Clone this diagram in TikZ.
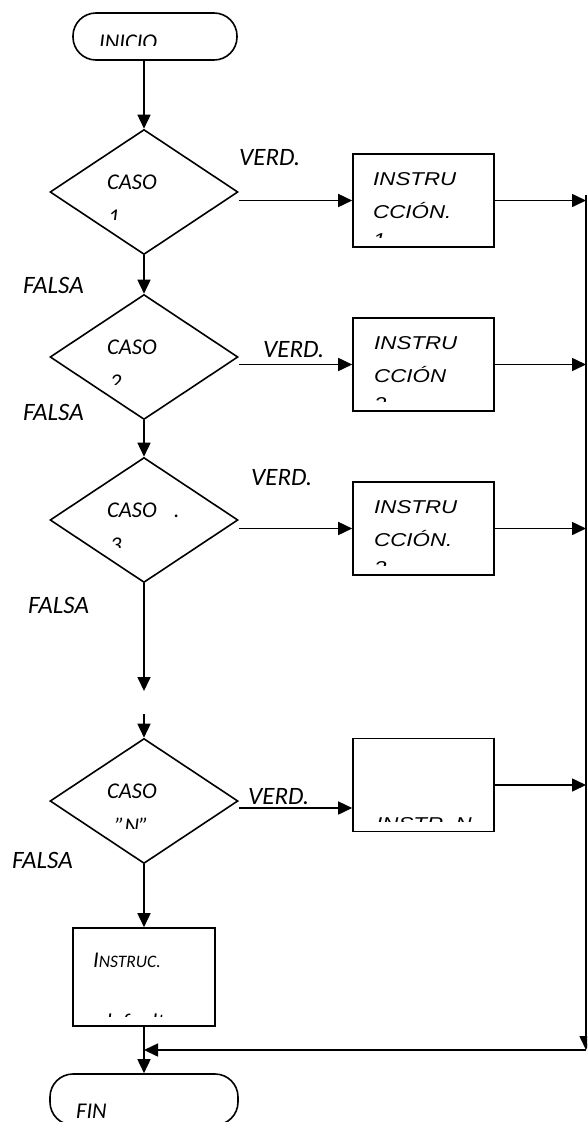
\documentclass[tikz,border=0pt]{standalone}
\usepackage{fontspec}
\setmainfont{Carlito}
\newfontfamily\arialf{Liberation Sans}
\usetikzlibrary{arrows.meta,shapes.geometric}

\tikzset{
  flow/.style={line width=1.6pt},
  arr/.style={flow,-{Triangle[length=14pt,width=13pt]}},
  terminal/.style={draw,flow,rectangle,rounded corners=23pt,inner sep=0pt},
  decision/.style={draw,flow,diamond,inner sep=0pt,minimum width=188pt,minimum height=125pt},
  procbox/.style={draw,flow,rectangle,inner sep=0pt,minimum width=141pt,minimum height=93pt},
  lbl/.style={font=\fontsize{22.5}{26}\selectfont\itshape,inner sep=0pt},
  edgelbl/.style={font=\fontsize{25}{28}\selectfont\itshape,inner sep=0pt},
  boxtxt/.style={font=\arialf\fontsize{18.6}{22}\selectfont\itshape,inner sep=0pt},
}

% text of an instruction box, cut off below its second line
\newcommand\instrtext[6]{%
  \begin{scope}
    \clip (#2-5,#3) rectangle (#2+125,#3+83);
    \node[boxtxt,anchor=base west] (#1a) at (#2,#3+31) {\scalebox{1.2}[1]{#4}};
    \node[boxtxt,anchor=base west] (#1b) at (#2,#3+64) {\scalebox{1.2}[1]{#5}};
    \node[boxtxt,anchor=base west] (#1c) at (#2,#3+92) {\scalebox{1.2}[1]{#6}};
  \end{scope}}

% text of a decision, its second line cut off
\newcommand\casetext[5]{%
  \begin{scope}
    \clip (60,#2-60) rectangle (230,#2+27);
    \node[lbl,anchor=base west] (#1a) at (107,#2-3) {#3};
    \node[lbl,anchor=base west] (#1b) at (#4,#2+32) {#5};
  \end{scope}}

\begin{document}
\begin{tikzpicture}[x=1pt,y=-1pt]
  \useasboundingbox (0,0) rectangle (587,1122);
  \clip (0,0) rectangle (587,1122);

  % terminals
  \node[terminal,minimum width=164pt,minimum height=47pt] (inicio) at (155,36.5) {};
  \node[terminal,minimum width=188pt,minimum height=51pt] (fin) at (144,1099.5) {};

  % decisions
  \node[decision] (d1) at (144,192) {};
  \node[decision] (d2) at (144,357) {};
  \node[decision] (d3) at (144,520) {};
  \node[decision] (d4) at (144,801) {};

  % instruction boxes
  \node[procbox] (b1) at (423.5,200.5) {};
  \node[procbox] (b2) at (423.5,364.5) {};
  \node[procbox] (b3) at (423.5,528.5) {};
  \node[procbox] (b4) at (423.5,785) {};
  \node[procbox,minimum width=142pt,minimum height=98pt] (bdef) at (144,977) {};

  % texts
  \begin{scope}
    \clip (80,20) rectangle (220,45);
    \node[lbl,anchor=base west] (tinicio) at (99,49) {INICIO};
  \end{scope}
  \node[lbl,anchor=base west] (tfin) at (76,1118) {FIN};

  \casetext{c1}{192}{CASO}{108}{1}
  \casetext{c2}{357}{CASO}{110}{2}
  \casetext{c3}{520}{CASO\hspace{17pt}.}{110}{3}
  \casetext{c4}{801}{CASO}{115}{”N”}

  \instrtext{i1}{373}{154}{INSTRU}{CCIÓN.}{1}
  \instrtext{i2}{374}{318}{INSTRU}{CCIÓN}{2}
  \instrtext{i3}{374}{482}{INSTRU}{CCIÓN.}{3}
  \instrtext{i4}{376}{738}{}{}{INSTR. N}

  \begin{scope}
    \clip (75,932) rectangle (212,1016);
    \node[lbl,anchor=base west] (tdef) at (93,967)
      {I{\fontsize{17.5}{20}\selectfont NSTRUC.}};
    \node[lbl,anchor=base west] (tdef2) at (100,1029) {default};
  \end{scope}

  \node[edgelbl,anchor=base west] (v1) at (239,165) {VERD.};
  \node[edgelbl,anchor=base west] (v2) at (263,357) {VERD.};
  \node[edgelbl,anchor=base west] (v3) at (251,485) {VERD.};
  \node[edgelbl,anchor=base west] (v4) at (248,804) {VERD.};

  \node[edgelbl,anchor=base east] (f1) at (84,293) {FALSA};
  \node[edgelbl,anchor=base east] (f2) at (84,420) {FALSA};
  \node[edgelbl,anchor=base west] (f3) at (28,613) {FALSA};
  \node[edgelbl,anchor=base east] (f4) at (73,868) {FALSA};

  % main flow
  \draw[arr] (d1.north |- inicio.south) -- (d1.north);
  \draw[arr] (d1.south) -- (d2.north);
  \draw[arr] (d2.south) -- (d3.north);
  \coordinate (gapa) at (144,691);
  \coordinate (gapb) at (144,714);
  \draw[arr] (d3.south) -- (gapa);
  \draw[arr] (gapb) -- (d4.north);
  \draw[arr] (d4.south) -- (bdef.north);
  \draw[arr] (bdef.south) -- (fin.north);

  % true branches
  \draw[arr] (b1.west -| d1.east) -- (b1.west);
  \draw[arr] (b2.west -| d2.east) -- (b2.west);
  \draw[arr] (b3.west -| d3.east) -- (b3.west);
  \draw[arr] ([yshift=-23pt]b4.west -| d4.east) -- ([yshift=-23pt]b4.west);

  % return line
  \coordinate (rtop) at (586,195);
  \coordinate (rbot) at (586,1050);
  \draw[arr] (b1.east) -- (b1.east -| rtop);
  \draw[arr] (b2.east) -- (b2.east -| rtop);
  \draw[arr] (b3.east) -- (b3.east -| rtop);
  \draw[arr] (b4.east) -- (b4.east -| rtop);
  \draw[arr] (rtop) -- (rbot);
  \draw[arr] (rbot) -- (rbot -| bdef.south);
\end{tikzpicture}
\end{document}
